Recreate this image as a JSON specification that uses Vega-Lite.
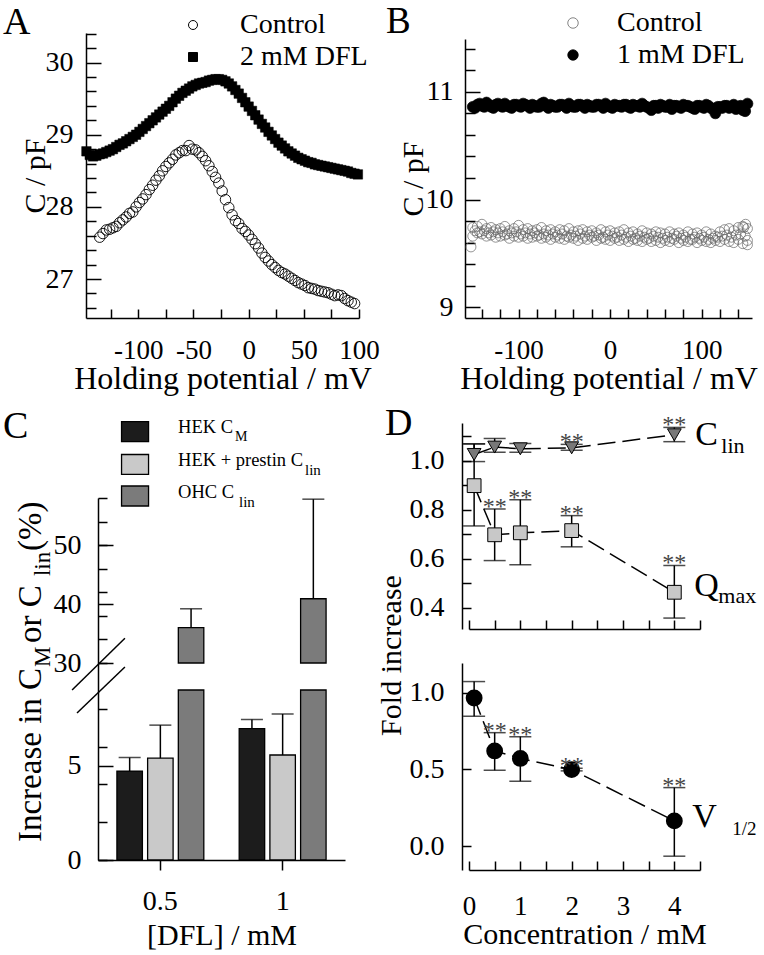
{
"$schema":"https://vega.github.io/schema/vega-lite/v6.json",
"width":764,"height":955,
"autosize":{"type":"none"},
"padding":0,
"background":"white",
"config":{
 "view":{"stroke":null},
 "font":"Liberation Serif",
 "axis":{"domainColor":"black","domainWidth":1.5,"tickColor":"black","tickWidth":1.5,"labelColor":"black","titleColor":"black","labelFont":"Liberation Serif","titleFont":"Liberation Serif","labelFontSize":28,"titleFontSize":30,"titleFontWeight":"normal","grid":false,"labelFlush":false,"labelOverlap":false},
 "text":{"font":"Liberation Serif","color":"black"}
},
"datasets":{
 "A_ctrl":[{"x":-135,"y":27.58},{"x":-132,"y":27.63},{"x":-129,"y":27.68},{"x":-126,"y":27.69},{"x":-123,"y":27.71},{"x":-120,"y":27.73},{"x":-117,"y":27.78},{"x":-114,"y":27.82},{"x":-111,"y":27.86},{"x":-108,"y":27.91},{"x":-105,"y":27.93},{"x":-102,"y":28.0},{"x":-99,"y":28.06},{"x":-96,"y":28.11},{"x":-93,"y":28.17},{"x":-90,"y":28.24},{"x":-87,"y":28.3},{"x":-84,"y":28.37},{"x":-81,"y":28.43},{"x":-78,"y":28.5},{"x":-75,"y":28.56},{"x":-72,"y":28.61},{"x":-69,"y":28.66},{"x":-66,"y":28.72},{"x":-63,"y":28.75},{"x":-60,"y":28.78},{"x":-57,"y":28.78},{"x":-54,"y":28.85},{"x":-51,"y":28.8},{"x":-48,"y":28.79},{"x":-45,"y":28.75},{"x":-42,"y":28.7},{"x":-39,"y":28.64},{"x":-36,"y":28.57},{"x":-33,"y":28.49},{"x":-30,"y":28.41},{"x":-27,"y":28.33},{"x":-24,"y":28.22},{"x":-21,"y":28.1},{"x":-18,"y":27.99},{"x":-15,"y":27.89},{"x":-12,"y":27.81},{"x":-9,"y":27.77},{"x":-6,"y":27.7},{"x":-3,"y":27.66},{"x":0,"y":27.61},{"x":3,"y":27.55},{"x":6,"y":27.49},{"x":9,"y":27.43},{"x":12,"y":27.36},{"x":15,"y":27.3},{"x":18,"y":27.25},{"x":21,"y":27.2},{"x":24,"y":27.16},{"x":27,"y":27.12},{"x":30,"y":27.09},{"x":33,"y":27.07},{"x":36,"y":27.04},{"x":39,"y":27.01},{"x":42,"y":26.98},{"x":45,"y":26.95},{"x":48,"y":26.93},{"x":51,"y":26.91},{"x":54,"y":26.88},{"x":57,"y":26.87},{"x":60,"y":26.86},{"x":63,"y":26.84},{"x":66,"y":26.83},{"x":69,"y":26.82},{"x":72,"y":26.81},{"x":75,"y":26.79},{"x":78,"y":26.77},{"x":81,"y":26.78},{"x":84,"y":26.77},{"x":87,"y":26.73},{"x":90,"y":26.7},{"x":93,"y":26.68},{"x":96,"y":26.66}],
 "A_dfl":[{"x":-147,"y":28.77},{"x":-144,"y":28.72},{"x":-141,"y":28.7},{"x":-138,"y":28.71},{"x":-135,"y":28.73},{"x":-132,"y":28.74},{"x":-129,"y":28.76},{"x":-126,"y":28.78},{"x":-123,"y":28.8},{"x":-120,"y":28.83},{"x":-117,"y":28.86},{"x":-114,"y":28.88},{"x":-111,"y":28.91},{"x":-108,"y":28.94},{"x":-105,"y":28.97},{"x":-102,"y":29.0},{"x":-99,"y":29.04},{"x":-96,"y":29.08},{"x":-93,"y":29.12},{"x":-90,"y":29.16},{"x":-87,"y":29.2},{"x":-84,"y":29.24},{"x":-81,"y":29.28},{"x":-78,"y":29.32},{"x":-75,"y":29.36},{"x":-72,"y":29.4},{"x":-69,"y":29.45},{"x":-66,"y":29.5},{"x":-63,"y":29.54},{"x":-60,"y":29.58},{"x":-57,"y":29.61},{"x":-54,"y":29.64},{"x":-51,"y":29.67},{"x":-48,"y":29.69},{"x":-45,"y":29.71},{"x":-42,"y":29.72},{"x":-39,"y":29.73},{"x":-36,"y":29.75},{"x":-33,"y":29.76},{"x":-30,"y":29.77},{"x":-27,"y":29.77},{"x":-24,"y":29.76},{"x":-21,"y":29.74},{"x":-18,"y":29.71},{"x":-15,"y":29.67},{"x":-12,"y":29.62},{"x":-9,"y":29.57},{"x":-6,"y":29.51},{"x":-3,"y":29.45},{"x":0,"y":29.39},{"x":3,"y":29.33},{"x":6,"y":29.27},{"x":9,"y":29.21},{"x":12,"y":29.15},{"x":15,"y":29.1},{"x":18,"y":29.04},{"x":21,"y":28.99},{"x":24,"y":28.94},{"x":27,"y":28.89},{"x":30,"y":28.85},{"x":33,"y":28.81},{"x":36,"y":28.77},{"x":39,"y":28.74},{"x":42,"y":28.71},{"x":45,"y":28.68},{"x":48,"y":28.66},{"x":51,"y":28.64},{"x":54,"y":28.62},{"x":57,"y":28.61},{"x":60,"y":28.59},{"x":63,"y":28.58},{"x":66,"y":28.57},{"x":69,"y":28.56},{"x":72,"y":28.55},{"x":75,"y":28.54},{"x":78,"y":28.53},{"x":81,"y":28.52},{"x":84,"y":28.51},{"x":87,"y":28.5},{"x":90,"y":28.49},{"x":93,"y":28.47},{"x":96,"y":28.46},{"x":99,"y":28.45}],
 "B_ctrl":[{"x":-150,"y":9.74},{"x":-150,"y":9.66},{"x":-145,"y":9.75},{"x":-145,"y":9.69},{"x":-140,"y":9.77},{"x":-140,"y":9.68},{"x":-135,"y":9.73},{"x":-135,"y":9.66},{"x":-130,"y":9.74},{"x":-130,"y":9.67},{"x":-125,"y":9.72},{"x":-125,"y":9.65},{"x":-120,"y":9.73},{"x":-120,"y":9.66},{"x":-115,"y":9.75},{"x":-115,"y":9.67},{"x":-110,"y":9.71},{"x":-110,"y":9.64},{"x":-105,"y":9.73},{"x":-105,"y":9.66},{"x":-100,"y":9.76},{"x":-100,"y":9.65},{"x":-95,"y":9.72},{"x":-95,"y":9.66},{"x":-90,"y":9.73},{"x":-90,"y":9.64},{"x":-85,"y":9.71},{"x":-85,"y":9.65},{"x":-80,"y":9.72},{"x":-80,"y":9.66},{"x":-75,"y":9.74},{"x":-75,"y":9.64},{"x":-70,"y":9.71},{"x":-70,"y":9.65},{"x":-65,"y":9.72},{"x":-65,"y":9.63},{"x":-60,"y":9.7},{"x":-60,"y":9.65},{"x":-55,"y":9.72},{"x":-55,"y":9.64},{"x":-50,"y":9.71},{"x":-50,"y":9.63},{"x":-45,"y":9.73},{"x":-45,"y":9.65},{"x":-40,"y":9.7},{"x":-40,"y":9.64},{"x":-35,"y":9.71},{"x":-35,"y":9.62},{"x":-30,"y":9.72},{"x":-30,"y":9.64},{"x":-25,"y":9.7},{"x":-25,"y":9.63},{"x":-20,"y":9.71},{"x":-20,"y":9.65},{"x":-15,"y":9.69},{"x":-15,"y":9.62},{"x":-10,"y":9.72},{"x":-10,"y":9.64},{"x":-5,"y":9.7},{"x":-5,"y":9.63},{"x":0,"y":9.71},{"x":0,"y":9.62},{"x":5,"y":9.69},{"x":5,"y":9.64},{"x":10,"y":9.7},{"x":10,"y":9.62},{"x":15,"y":9.72},{"x":15,"y":9.63},{"x":20,"y":9.69},{"x":20,"y":9.61},{"x":25,"y":9.7},{"x":25,"y":9.63},{"x":30,"y":9.68},{"x":30,"y":9.62},{"x":35,"y":9.71},{"x":35,"y":9.61},{"x":40,"y":9.69},{"x":40,"y":9.63},{"x":45,"y":9.68},{"x":45,"y":9.61},{"x":50,"y":9.7},{"x":50,"y":9.62},{"x":55,"y":9.69},{"x":55,"y":9.6},{"x":60,"y":9.68},{"x":60,"y":9.62},{"x":65,"y":9.7},{"x":65,"y":9.61},{"x":70,"y":9.68},{"x":70,"y":9.63},{"x":75,"y":9.69},{"x":75,"y":9.6},{"x":80,"y":9.67},{"x":80,"y":9.62},{"x":85,"y":9.7},{"x":85,"y":9.61},{"x":90,"y":9.68},{"x":90,"y":9.63},{"x":95,"y":9.69},{"x":95,"y":9.6},{"x":100,"y":9.67},{"x":100,"y":9.62},{"x":105,"y":9.7},{"x":105,"y":9.61},{"x":110,"y":9.68},{"x":110,"y":9.6},{"x":115,"y":9.66},{"x":115,"y":9.62},{"x":120,"y":9.7},{"x":120,"y":9.61},{"x":125,"y":9.72},{"x":125,"y":9.63},{"x":130,"y":9.73},{"x":130,"y":9.61},{"x":135,"y":9.71},{"x":135,"y":9.6},{"x":140,"y":9.74},{"x":140,"y":9.63},{"x":145,"y":9.75},{"x":145,"y":9.59},{"x":150,"y":9.73},{"x":150,"y":9.62},
  {"x":-147.5,"y":9.71},{"x":-142.5,"y":9.7},{"x":-137.5,"y":9.71},{"x":-132.5,"y":9.69},{"x":-127.5,"y":9.7},{"x":-122.5,"y":9.69},{"x":-117.5,"y":9.7},{"x":-112.5,"y":9.68},{"x":-107.5,"y":9.69},{"x":-102.5,"y":9.7},{"x":-97.5,"y":9.68},{"x":-92.5,"y":9.69},{"x":-87.5,"y":9.68},{"x":-82.5,"y":9.69},{"x":-77.5,"y":9.67},{"x":-72.5,"y":9.68},{"x":-67.5,"y":9.67},{"x":-62.5,"y":9.68},{"x":-57.5,"y":9.67},{"x":-52.5,"y":9.68},{"x":-47.5,"y":9.66},{"x":-42.5,"y":9.67},{"x":-37.5,"y":9.66},{"x":-32.5,"y":9.68},{"x":-27.5,"y":9.66},{"x":-22.5,"y":9.67},{"x":-17.5,"y":9.66},{"x":-12.5,"y":9.67},{"x":-7.5,"y":9.65},{"x":-2.5,"y":9.67},{"x":2.5,"y":9.66},{"x":7.5,"y":9.65},{"x":12.5,"y":9.67},{"x":17.5,"y":9.65},{"x":22.5,"y":9.66},{"x":27.5,"y":9.64},{"x":32.5,"y":9.66},{"x":37.5,"y":9.65},{"x":42.5,"y":9.64},{"x":47.5,"y":9.66},{"x":52.5,"y":9.65},{"x":57.5,"y":9.64},{"x":62.5,"y":9.65},{"x":67.5,"y":9.64},{"x":72.5,"y":9.66},{"x":77.5,"y":9.64},{"x":82.5,"y":9.65},{"x":87.5,"y":9.63},{"x":92.5,"y":9.65},{"x":97.5,"y":9.64},{"x":102.5,"y":9.65},{"x":107.5,"y":9.63},{"x":112.5,"y":9.64},{"x":117.5,"y":9.65},{"x":122.5,"y":9.66},{"x":127.5,"y":9.67},{"x":132.5,"y":9.65},{"x":137.5,"y":9.67},{"x":142.5,"y":9.68},{"x":147.5,"y":9.66},{"x":-152,"y":9.56},{"x":150,"y":9.58},{"x":148,"y":9.77},{"x":146,"y":9.74}],
 "B_dfl":[{"x":-150,"y":10.86},{"x":-145,"y":10.88},{"x":-140,"y":10.87},{"x":-135,"y":10.9},{"x":-130,"y":10.86},{"x":-125,"y":10.88},{"x":-120,"y":10.87},{"x":-115,"y":10.89},{"x":-110,"y":10.86},{"x":-105,"y":10.88},{"x":-100,"y":10.87},{"x":-95,"y":10.89},{"x":-90,"y":10.87},{"x":-85,"y":10.88},{"x":-80,"y":10.86},{"x":-75,"y":10.89},{"x":-70,"y":10.87},{"x":-65,"y":10.88},{"x":-60,"y":10.86},{"x":-55,"y":10.88},{"x":-50,"y":10.87},{"x":-45,"y":10.89},{"x":-40,"y":10.86},{"x":-35,"y":10.88},{"x":-30,"y":10.87},{"x":-25,"y":10.88},{"x":-20,"y":10.86},{"x":-15,"y":10.88},{"x":-10,"y":10.87},{"x":-5,"y":10.89},{"x":0,"y":10.86},{"x":5,"y":10.88},{"x":10,"y":10.87},{"x":15,"y":10.88},{"x":20,"y":10.86},{"x":25,"y":10.88},{"x":30,"y":10.87},{"x":35,"y":10.89},{"x":40,"y":10.86},{"x":45,"y":10.83},{"x":50,"y":10.87},{"x":55,"y":10.88},{"x":60,"y":10.86},{"x":65,"y":10.88},{"x":70,"y":10.87},{"x":75,"y":10.86},{"x":80,"y":10.88},{"x":85,"y":10.87},{"x":90,"y":10.85},{"x":95,"y":10.87},{"x":100,"y":10.86},{"x":105,"y":10.88},{"x":110,"y":10.85},{"x":115,"y":10.8},{"x":120,"y":10.86},{"x":125,"y":10.87},{"x":130,"y":10.85},{"x":135,"y":10.88},{"x":140,"y":10.86},{"x":145,"y":10.83},{"x":150,"y":10.89},
  {"x":-147.5,"y":10.85},{"x":-142.5,"y":10.89},{"x":-137.5,"y":10.86},{"x":-132.5,"y":10.88},{"x":-127.5,"y":10.85},{"x":-122.5,"y":10.89},{"x":-117.5,"y":10.86},{"x":-112.5,"y":10.87},{"x":-107.5,"y":10.85},{"x":-102.5,"y":10.88},{"x":-97.5,"y":10.86},{"x":-92.5,"y":10.88},{"x":-87.5,"y":10.85},{"x":-82.5,"y":10.87},{"x":-77.5,"y":10.86},{"x":-72.5,"y":10.9},{"x":-67.5,"y":10.85},{"x":-62.5,"y":10.87},{"x":-57.5,"y":10.86},{"x":-52.5,"y":10.88},{"x":-47.5,"y":10.85},{"x":-42.5,"y":10.87},{"x":-37.5,"y":10.86},{"x":-32.5,"y":10.88},{"x":-27.5,"y":10.85},{"x":-22.5,"y":10.87},{"x":-17.5,"y":10.86},{"x":-12.5,"y":10.88},{"x":-7.5,"y":10.85},{"x":-2.5,"y":10.87},{"x":2.5,"y":10.85},{"x":7.5,"y":10.87},{"x":12.5,"y":10.86},{"x":17.5,"y":10.88},{"x":22.5,"y":10.85},{"x":27.5,"y":10.87},{"x":32.5,"y":10.86},{"x":37.5,"y":10.87},{"x":42.5,"y":10.85},{"x":47.5,"y":10.87},{"x":52.5,"y":10.85},{"x":57.5,"y":10.87},{"x":62.5,"y":10.86},{"x":67.5,"y":10.84},{"x":72.5,"y":10.87},{"x":77.5,"y":10.85},{"x":82.5,"y":10.87},{"x":87.5,"y":10.86},{"x":92.5,"y":10.84},{"x":97.5,"y":10.87},{"x":102.5,"y":10.85},{"x":107.5,"y":10.87},{"x":112.5,"y":10.84},{"x":117.5,"y":10.86},{"x":122.5,"y":10.85},{"x":127.5,"y":10.87},{"x":132.5,"y":10.86},{"x":137.5,"y":10.84},{"x":142.5,"y":10.87},{"x":147.5,"y":10.82}],
 "C":[{"dfl":"0.5","g":"HEK CM","v":4.71,"e":5.42},{"dfl":"0.5","g":"HEK+prestin","v":5.39,"e":7.14},{"dfl":"0.5","g":"OHC","v":36.0,"e":39.2},{"dfl":"1","g":"HEK CM","v":6.96,"e":7.44},{"dfl":"1","g":"HEK+prestin","v":5.56,"e":7.73},{"dfl":"1","g":"OHC","v":40.9,"e":57.8}],
 "D":[{"s":"Clin","x":0.1,"y":1.025,"lo":0.996,"hi":1.068,"sig":false},{"s":"Clin","x":0.5,"y":1.055,"lo":1.034,"hi":1.09,"sig":false},{"s":"Clin","x":1,"y":1.048,"lo":1.034,"hi":1.07,"sig":false},{"s":"Clin","x":2,"y":1.052,"lo":1.042,"hi":1.066,"sig":true},{"s":"Clin","x":4,"y":1.105,"lo":1.077,"hi":1.135,"sig":true},
  {"s":"Qmax","x":0.1,"y":0.898,"lo":0.734,"hi":1.068,"sig":false},{"s":"Qmax","x":0.5,"y":0.698,"lo":0.593,"hi":0.803,"sig":true},{"s":"Qmax","x":1,"y":0.706,"lo":0.576,"hi":0.841,"sig":true},{"s":"Qmax","x":2,"y":0.715,"lo":0.649,"hi":0.776,"sig":true},{"s":"Qmax","x":4,"y":0.464,"lo":0.359,"hi":0.573,"sig":true},
  {"s":"V","x":0.1,"y":0.965,"lo":0.846,"hi":1.072,"sig":false},{"s":"V","x":0.5,"y":0.62,"lo":0.494,"hi":0.739,"sig":true},{"s":"V","x":1,"y":0.571,"lo":0.423,"hi":0.713,"sig":true},{"s":"V","x":2,"y":0.498,"lo":0.49,"hi":0.507,"sig":true},{"s":"V","x":4,"y":0.164,"lo":-0.066,"hi":0.381,"sig":true}]
},
"layer":[
 {
  "encoding":{
   "x":{"field":"x","type":"quantitative","scale":{"domain":[-147.4,100],"range":[86,359],"nice":false,"zero":false},"axis":{"orient":"bottom","offset":-637,"title":"Holding potential / mV","titleFontSize":32,"labelFontSize":27,"values":[-125,-100,-75,-50,-25,0,25,50,75,100],"labelExpr":"datum.value % 50 == 0 ? replace(format(datum.value, 'd'), '\u2212', '-') : ''","tickSize":-9,"labelPadding":28,"titlePadding":0}},
   "y":{"field":"y","type":"quantitative","scale":{"domain":[26.46,30.41],"range":[318,33],"nice":false,"zero":false},"axis":{"orient":"left","offset":-86,"title":"C / pF","values":[26.6,26.8,27,27.2,27.4,27.6,27.8,28,28.2,28.4,28.6,28.8,29,29.2,29.4,29.6,29.8,30,30.2,30.4],"labelExpr":"abs(datum.value - round(datum.value)) < 0.01 ? format(datum.value, 'd') : ''","tickSize":{"condition":{"test":"abs(datum.value - round(datum.value)) < 0.01","value":-15},"value":-10},"labelPadding":28,"titlePadding":-5}}
  },
  "layer":[
   {"data":{"name":"A_ctrl"},"mark":{"type":"point","filled":true,"size":110,"strokeWidth":0.9,"opacity":1},
    "encoding":{
     "shape":{"datum":"Control","type":"nominal","scale":{"domain":["Control","2 mM DFL"],"range":["circle","square"]},"legend":{"orient":"none","legendX":179,"legendY":11,"title":null,"labelFontSize":28,"labelFont":"Liberation Serif","labelColor":"black","symbolSize":81,"symbolStrokeWidth":1,"symbolOpacity":1,"labelOffset":33,"rowPadding":4,"padding":0}},
     "fill":{"datum":"Control","type":"nominal","scale":{"domain":["Control","2 mM DFL"],"range":["transparent","black"]},"legend":{"orient":"none","legendX":179,"legendY":11,"title":null,"labelFontSize":28,"labelFont":"Liberation Serif","labelColor":"black","symbolSize":81,"symbolStrokeWidth":1,"symbolOpacity":1,"labelOffset":33,"rowPadding":4,"padding":0}},
     "stroke":{"datum":"Control","type":"nominal","scale":{"domain":["Control","2 mM DFL"],"range":["black","black"]},"legend":{"orient":"none","legendX":179,"legendY":11,"title":null,"labelFontSize":28,"labelFont":"Liberation Serif","labelColor":"black","symbolSize":81,"symbolStrokeWidth":1,"symbolOpacity":1,"labelOffset":33,"rowPadding":4,"padding":0}}
    }},
   {"data":{"name":"A_dfl"},"mark":{"type":"point","filled":true,"size":90,"strokeWidth":0.5,"opacity":1},
    "encoding":{"shape":{"datum":"2 mM DFL","type":"nominal"},"fill":{"datum":"2 mM DFL","type":"nominal"},"stroke":{"datum":"2 mM DFL","type":"nominal"}}},
   {"data":{"values":[{"x":0,"y":0}]},"mark":{"type":"text","text":"A","fontSize":38,"align":"left","baseline":"alphabetic"},"encoding":{"x":{"datum":-222.6,"type":"quantitative"},"y":{"datum":30.396,"type":"quantitative"}}}
  ]
 },
 {
  "encoding":{
   "x":{"field":"x","type":"quantitative","scale":{"domain":[-158.5,155],"range":[465,752],"nice":false,"zero":false},"axis":{"orient":"bottom","offset":-637,"title":"Holding potential / mV","titleFontSize":32,"labelFontSize":27,"values":[-140,-120,-100,-80,-60,-40,-20,0,20,40,60,80,100,120,140],"labelExpr":"datum.value % 100 == 0 ? replace(format(datum.value, 'd'), '\u2212', '-') : ''","tickSize":-9,"labelPadding":28,"titlePadding":0}},
   "y":{"field":"y","type":"quantitative","scale":{"domain":[8.9,11.49],"range":[318,39],"nice":false,"zero":false},"axis":{"orient":"left","offset":-465,"title":"C / pF","values":[9,9.2,9.4,9.6,9.8,10,10.2,10.4,10.6,10.8,11,11.2,11.4],"labelExpr":"abs(datum.value - round(datum.value)) < 0.01 ? format(datum.value, 'd') : ''","tickSize":{"condition":{"test":"abs(datum.value - round(datum.value)) < 0.01","value":-15},"value":-10},"labelPadding":27,"titlePadding":-3}}
  },
  "layer":[
   {"data":{"name":"B_ctrl"},"mark":{"type":"point","filled":true,"size":100,"strokeWidth":0.7,"opacity":1},
    "encoding":{
     "shape":{"datum":"Control","type":"nominal","scale":{"domain":["Control","1 mM DFL"],"range":["circle","circle"]},"legend":{"orient":"none","legendX":559,"legendY":9,"title":null,"labelFontSize":28,"labelFont":"Liberation Serif","labelColor":"black","symbolSize":110,"symbolStrokeWidth":0.8,"symbolOpacity":1,"labelOffset":30,"rowPadding":4,"padding":0}},
     "fill":{"datum":"Control","type":"nominal","scale":{"domain":["Control","1 mM DFL"],"range":["transparent","black"]},"legend":{"orient":"none","legendX":559,"legendY":9,"title":null,"labelFontSize":28,"labelFont":"Liberation Serif","labelColor":"black","symbolSize":110,"symbolStrokeWidth":0.8,"symbolOpacity":1,"labelOffset":30,"rowPadding":4,"padding":0}},
     "stroke":{"datum":"Control","type":"nominal","scale":{"domain":["Control","1 mM DFL"],"range":["#666666","black"]},"legend":{"orient":"none","legendX":559,"legendY":9,"title":null,"labelFontSize":28,"labelFont":"Liberation Serif","labelColor":"black","symbolSize":110,"symbolStrokeWidth":0.8,"symbolOpacity":1,"labelOffset":30,"rowPadding":4,"padding":0}}
    }},
   {"data":{"name":"B_dfl"},"mark":{"type":"point","filled":true,"size":120,"strokeWidth":0.7,"opacity":1},
    "encoding":{"shape":{"datum":"1 mM DFL","type":"nominal"},"fill":{"datum":"1 mM DFL","type":"nominal"},"stroke":{"datum":"1 mM DFL","type":"nominal"}}},
   {"data":{"values":[{"x":0,"y":0}]},"mark":{"type":"text","text":"B","fontSize":37,"align":"left","baseline":"alphabetic"},"encoding":{"x":{"datum":-244.8,"type":"quantitative"},"y":{"datum":11.546,"type":"quantitative"}}}
  ]
 },
 {
  "layer":[
   {"data":{"name":"C"},
    "encoding":{
     "x":{"field":"dfl","type":"nominal","sort":["0.5","1"],"scale":{"range":[98,345],"paddingInner":0.2,"paddingOuter":0.11},"axis":{"orient":"bottom","offset":-95,"title":"[DFL] / mM","labelAngle":0,"tickSize":10,"labelPadding":17,"titlePadding":5}},
     "xOffset":{"field":"g","type":"nominal","sort":["HEK CM","HEK+prestin","OHC"],"scale":{"paddingInner":0.17,"paddingOuter":0.178}}
    },
    "layer":[
     {"transform":[{"filter":"datum.g != 'OHC'"}],"mark":{"type":"bar","stroke":"black","strokeWidth":1.3},
      "encoding":{"y":{"field":"v","type":"quantitative","scale":{"domain":[0,9,30,58],"range":[860,690,663,498],"nice":false,"zero":false},"axis":{"orient":"left","offset":-98,"title":null,"values":[0,5,30,40,50],"format":"d","labelOverlap":false,"tickSize":-15,"labelPadding":32,"domain":false}},
       "y2":{"datum":0},
       "fill":{"field":"g","type":"nominal","scale":{"domain":["HEK CM","HEK+prestin","OHC"],"range":["#1c1c1c","#c9c9c9","#7b7b7b"]},"legend":null}}},
     {"transform":[{"filter":"datum.g == 'OHC'"}],"mark":{"type":"bar","stroke":"black","strokeWidth":1.3},
      "encoding":{"y":{"datum":9,"type":"quantitative"},"y2":{"datum":0},"fill":{"field":"g","type":"nominal","legend":null}}},
     {"transform":[{"filter":"datum.g == 'OHC'"}],"mark":{"type":"bar","stroke":"black","strokeWidth":1.3},
      "encoding":{"y":{"field":"v","type":"quantitative"},"y2":{"datum":30},"fill":{"field":"g","type":"nominal","legend":null}}},
     {"mark":{"type":"rule","strokeWidth":1.5,"color":"black"},"encoding":{"y":{"field":"v","type":"quantitative"},"y2":{"field":"e"}}},
     {"mark":{"type":"tick","orient":"horizontal","size":22,"thickness":1.5,"color":"black"},"encoding":{"y":{"field":"e","type":"quantitative"}}}
    ]},
   {"data":{"values":[{}]},
    "layer":[
     {"mark":{"type":"rule","strokeWidth":1.5,"color":"black"},"encoding":{"x":{"datum":-0.105,"type":"quantitative","scale":{"domain":[0,1],"range":[98,345],"nice":false,"zero":false},"axis":null},"x2":{"datum":0.109},"y":{"datum":9,"type":"quantitative","scale":{"domain":[0,9,30,58],"range":[860,690,663,498],"nice":false,"zero":false},"axis":{"orient":"left","offset":-98,"title":null,"values":[0,1,2,3,4,5,6,7,8,9,30,32,34,36,38,40,42,44,46,48,50,52,54,56,58],"labels":false,"tickSize":-9}},"y2":{"datum":34.2}}},
     {"mark":{"type":"rule","strokeWidth":1.5,"color":"black"},"encoding":{"x":{"datum":-0.085,"type":"quantitative"},"x2":{"datum":0.109},"y":{"datum":7.78,"type":"quantitative"},"y2":{"datum":26.9}}},
     {"mark":{"type":"point","shape":"M-1,-0.74L1,-0.74L1,0.74L-1,0.74Z","size":729,"filled":true,"fill":"#1c1c1c","stroke":"black","strokeWidth":1.3,"opacity":1},"encoding":{"x":{"datum":0.15,"type":"quantitative"},"y":{"datum":69.26,"type":"quantitative"}}},
     {"mark":{"type":"point","shape":"M-1,-0.74L1,-0.74L1,0.74L-1,0.74Z","size":729,"filled":true,"fill":"#c9c9c9","stroke":"black","strokeWidth":1.3,"opacity":1},"encoding":{"x":{"datum":0.15,"type":"quantitative"},"y":{"datum":63.69,"type":"quantitative"}}},
     {"mark":{"type":"point","shape":"M-1,-0.74L1,-0.74L1,0.74L-1,0.74Z","size":729,"filled":true,"fill":"#7b7b7b","stroke":"black","strokeWidth":1.3,"opacity":1},"encoding":{"x":{"datum":0.15,"type":"quantitative"},"y":{"datum":58.34,"type":"quantitative"}}},
     {"mark":{"type":"text","text":"HEK C","fontSize":18.5,"align":"left","baseline":"alphabetic","dy":1},"encoding":{"x":{"datum":0.324,"type":"quantitative"},"y":{"datum":69.26,"type":"quantitative"}}},
     {"mark":{"type":"text","text":"M","fontSize":14,"align":"left","baseline":"alphabetic","dy":9},"encoding":{"x":{"datum":0.555,"type":"quantitative"},"y":{"datum":69.26,"type":"quantitative"}}},
     {"mark":{"type":"text","text":"HEK + prestin C","fontSize":18.5,"align":"left","baseline":"alphabetic","dy":2},"encoding":{"x":{"datum":0.324,"type":"quantitative"},"y":{"datum":63.69,"type":"quantitative"}}},
     {"mark":{"type":"text","text":"lin","fontSize":15,"align":"left","baseline":"alphabetic","dy":11},"encoding":{"x":{"datum":0.838,"type":"quantitative"},"y":{"datum":63.69,"type":"quantitative"}}},
     {"mark":{"type":"text","text":"OHC C","fontSize":18.5,"align":"left","baseline":"alphabetic","dy":2},"encoding":{"x":{"datum":0.324,"type":"quantitative"},"y":{"datum":58.34,"type":"quantitative"}}},
     {"mark":{"type":"text","text":"lin","fontSize":15,"align":"left","baseline":"alphabetic","dy":11},"encoding":{"x":{"datum":0.571,"type":"quantitative"},"y":{"datum":58.34,"type":"quantitative"}}},
     {"mark":{"type":"text","text":"Increase in C","fontSize":33,"angle":270,"align":"left","baseline":"alphabetic"},"encoding":{"x":{"datum":-0.2308,"type":"quantitative"},"y":{"datum":0.952,"type":"quantitative"}}},
     {"mark":{"type":"text","text":"M","fontSize":23,"angle":270,"align":"left","baseline":"alphabetic","dx":175,"dy":9},"encoding":{"x":{"datum":-0.2308,"type":"quantitative"},"y":{"datum":0.952,"type":"quantitative"}}},
     {"mark":{"type":"text","text":" or C","fontSize":33,"angle":270,"align":"left","baseline":"alphabetic","dx":199},"encoding":{"x":{"datum":-0.2308,"type":"quantitative"},"y":{"datum":0.952,"type":"quantitative"}}},
     {"mark":{"type":"text","text":"lin","fontSize":23,"angle":270,"align":"left","baseline":"alphabetic","dx":266,"dy":9},"encoding":{"x":{"datum":-0.2308,"type":"quantitative"},"y":{"datum":0.952,"type":"quantitative"}}},
     {"mark":{"type":"text","text":" (%)","fontSize":33,"angle":270,"align":"left","baseline":"alphabetic","dx":291},"encoding":{"x":{"datum":-0.2308,"type":"quantitative"},"y":{"datum":0.952,"type":"quantitative"}}},
     {"mark":{"type":"text","text":"C","fontSize":38,"align":"left","baseline":"alphabetic"},"encoding":{"x":{"datum":-0.3846,"type":"quantitative"},"y":{"datum":68.18,"type":"quantitative"}}}
    ]}
  ],
  "resolve":{"scale":{"x":"independent","y":"independent"}}
 },
 {
  "encoding":{
   "x":{"field":"x","type":"quantitative","scale":{"domain":[0,4.5],"range":[469,700],"nice":false,"zero":false},"axis":{"orient":"bottom","offset":-326,"values":[0,0.5,1,1.5,2,2.5,3,3.5,4,4.5],"labels":false,"tickSize":-9,"title":null}},
   "y":{"field":"y","type":"quantitative","scale":{"domain":[0.3145,1.153],"range":[629,423],"nice":false,"zero":false},"axis":{"orient":"left","offset":-462,"values":[0.4,0.5,0.6,0.7,0.8,0.9,1.0,1.1],"labelExpr":"round(datum.value*10) % 2 == 0 ? format(datum.value,'.1f') : ''","tickSize":-9,"labelPadding":27,"title":"Fold increase","titleX":-56,"titleY":655}}
  },
  "layer":[
   {"data":{"name":"D"},"transform":[{"filter":"datum.s == 'Clin'"}],"mark":{"type":"line","strokeDash":[18,7],"strokeWidth":1.5,"color":"black"}},
   {"data":{"name":"D"},"transform":[{"filter":"datum.s == 'Qmax'"}],"mark":{"type":"line","strokeDash":[18,7],"strokeWidth":1.5,"color":"black"}},
   {"data":{"name":"D"},"transform":[{"filter":"datum.s != 'V'"}],"mark":{"type":"rule","strokeWidth":1.5,"color":"black"},"encoding":{"y":{"field":"lo","type":"quantitative"},"y2":{"field":"hi"}}},
   {"data":{"name":"D"},"transform":[{"filter":"datum.s != 'V'"}],"mark":{"type":"tick","orient":"horizontal","size":22,"thickness":1.5,"color":"black"},"encoding":{"y":{"field":"lo","type":"quantitative"}}},
   {"data":{"name":"D"},"transform":[{"filter":"datum.s != 'V'"}],"mark":{"type":"tick","orient":"horizontal","size":22,"thickness":1.5,"color":"black"},"encoding":{"y":{"field":"hi","type":"quantitative"}}},
   {"data":{"name":"D"},"transform":[{"filter":"datum.s == 'Clin'"}],"mark":{"type":"point","shape":"triangle-down","filled":true,"fill":"#787878","stroke":"black","strokeWidth":1,"size":190,"opacity":1}},
   {"data":{"name":"D"},"transform":[{"filter":"datum.s == 'Qmax'"}],"mark":{"type":"point","shape":"square","filled":true,"fill":"#c8c8c8","stroke":"black","strokeWidth":1,"size":190,"opacity":1}},
   {"data":{"name":"D"},"transform":[{"filter":"datum.s != 'V' && datum.sig"}],"mark":{"type":"text","text":"**","fontSize":24,"color":"#444444","baseline":"alphabetic","dy":5},"encoding":{"y":{"field":"hi","type":"quantitative"}}},
   {"data":{"values":[{"x":0,"y":0}]},"mark":{"type":"text","text":"C","fontSize":34,"align":"left","baseline":"alphabetic","dx":21,"dy":10},"encoding":{"x":{"datum":4,"type":"quantitative"},"y":{"datum":1.105,"type":"quantitative"}}},
   {"data":{"values":[{"x":0,"y":0}]},"mark":{"type":"text","text":"lin","fontSize":22,"align":"left","baseline":"alphabetic","dx":47,"dy":18},"encoding":{"x":{"datum":4,"type":"quantitative"},"y":{"datum":1.105,"type":"quantitative"}}},
   {"data":{"values":[{"x":0,"y":0}]},"mark":{"type":"text","text":"Q","fontSize":34,"align":"left","baseline":"alphabetic","dx":20,"dy":4},"encoding":{"x":{"datum":4,"type":"quantitative"},"y":{"datum":0.464,"type":"quantitative"}}},
   {"data":{"values":[{"x":0,"y":0}]},"mark":{"type":"text","text":"max","fontSize":22,"align":"left","baseline":"alphabetic","dx":44,"dy":11},"encoding":{"x":{"datum":4,"type":"quantitative"},"y":{"datum":0.464,"type":"quantitative"}}},
   {"data":{"values":[{"x":0,"y":0}]},"mark":{"type":"text","text":"D","fontSize":38,"align":"left","baseline":"alphabetic"},"encoding":{"x":{"datum":-1.636,"type":"quantitative"},"y":{"datum":1.104,"type":"quantitative"}}}
  ]
 },
 {
  "encoding":{
   "x":{"field":"x","type":"quantitative","scale":{"domain":[0,4.5],"range":[469,700],"nice":false,"zero":false},"axis":{"orient":"bottom","offset":-85,"values":[0,0.5,1,1.5,2,2.5,3,3.5,4,4.5],"labelExpr":"datum.value % 1 == 0 ? format(datum.value, 'd') : ''","labelFontSize":27,"tickSize":-9,"labelPadding":32,"title":"Concentration / mM","titlePadding":0}},
   "y":{"field":"y","type":"quantitative","scale":{"domain":[-0.156,1.193],"range":[870,663],"nice":false,"zero":false},"axis":{"orient":"left","offset":-462,"values":[0,0.5,1],"format":".1f","tickSize":-9,"labelPadding":27,"title":null}}
  },
  "layer":[
   {"data":{"name":"D"},"transform":[{"filter":"datum.s == 'V'"}],"mark":{"type":"line","strokeDash":[18,7],"strokeWidth":1.5,"color":"black"}},
   {"data":{"name":"D"},"transform":[{"filter":"datum.s == 'V'"}],"mark":{"type":"rule","strokeWidth":1.5,"color":"black"},"encoding":{"y":{"field":"lo","type":"quantitative"},"y2":{"field":"hi"}}},
   {"data":{"name":"D"},"transform":[{"filter":"datum.s == 'V'"}],"mark":{"type":"tick","orient":"horizontal","size":22,"thickness":1.5,"color":"black"},"encoding":{"y":{"field":"lo","type":"quantitative"}}},
   {"data":{"name":"D"},"transform":[{"filter":"datum.s == 'V'"}],"mark":{"type":"tick","orient":"horizontal","size":22,"thickness":1.5,"color":"black"},"encoding":{"y":{"field":"hi","type":"quantitative"}}},
   {"data":{"name":"D"},"transform":[{"filter":"datum.s == 'V'"}],"mark":{"type":"point","shape":"circle","filled":true,"fill":"black","stroke":"black","size":220,"opacity":1}},
   {"data":{"name":"D"},"transform":[{"filter":"datum.s == 'V' && datum.sig"}],"mark":{"type":"text","text":"**","fontSize":24,"color":"#444444","baseline":"alphabetic","dy":5},"encoding":{"y":{"field":"hi","type":"quantitative"}}},
   {"data":{"values":[{"x":0,"y":0}]},"mark":{"type":"text","text":"V","fontSize":34,"align":"left","baseline":"alphabetic","dx":18,"dy":6},"encoding":{"x":{"datum":4,"type":"quantitative"},"y":{"datum":0.164,"type":"quantitative"}}},
   {"data":{"values":[{"x":0,"y":0}]},"mark":{"type":"text","text":"1/2","fontSize":19,"align":"left","baseline":"alphabetic","dx":58,"dy":14},"encoding":{"x":{"datum":4,"type":"quantitative"},"y":{"datum":0.164,"type":"quantitative"}}}
  ]
 }
],
"resolve":{"scale":{"x":"independent","y":"independent","fill":"independent","shape":"independent","stroke":"independent"},"axis":{"x":"independent","y":"independent"},"legend":{"fill":"independent","shape":"independent","stroke":"independent"}}
}
